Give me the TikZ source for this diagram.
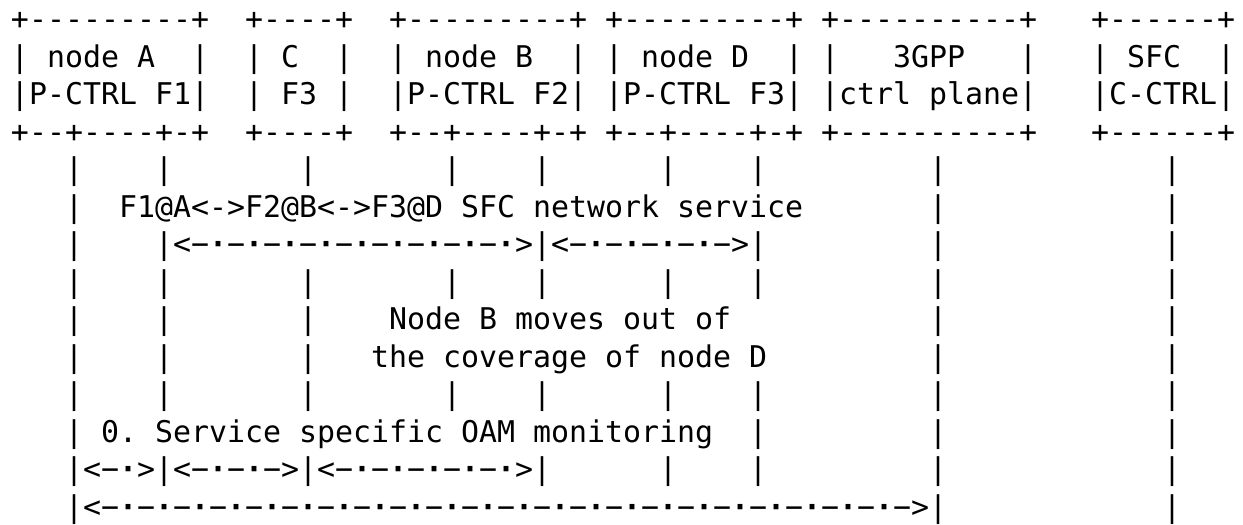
\documentclass[tikz,border=0pt]{standalone}
\usepackage{fontspec}
\setmonofont{DejaVu Sans Mono}
\newcommand\arrdot{{\bfseries ·}}
\newcommand\arrdash{−}
\ExplSyntaxOn
\cs_new:Npn \dashdot #1 { \prg_replicate:nn {#1} {\arrdash\arrdot} }
\ExplSyntaxOff
\newcommand\asciifont{\ttfamily\fontsize{22.43pt}{28pt}\selectfont\frenchspacing}
\tikzset{ch/.style={anchor=base west, inner sep=0pt, outer sep=0pt, font=\asciifont, text=black}}
% \asc{name}{column}{row}{text}
\newcommand\asc[4]{\node[ch] (#1) at ({11+18*(#2)},{29.5+37.5*((#3)-1)}) {#4};}
\begin{document}
\begin{tikzpicture}[x=0.75pt,y=-0.75pt]
\useasboundingbox[fill=white] (0,0) rectangle (1243,525);
% ---- boxes ----
\asc{A1}{0}{1}{+---------+}
\asc{A2}{0}{2}{|~node~A~~|}
\asc{A3}{0}{3}{|P-CTRL~F1|}
\asc{A4}{0}{4}{+--+----+-+}
\asc{C1}{13}{1}{+----+}
\asc{C2}{13}{2}{|~C~~|}
\asc{C3}{13}{3}{|~F3~|}
\asc{C4}{13}{4}{+----+}
\asc{B1}{21}{1}{+---------+}
\asc{B2}{21}{2}{|~node~B~~|}
\asc{B3}{21}{3}{|P-CTRL~F2|}
\asc{B4}{21}{4}{+--+----+-+}
\asc{D1}{33}{1}{+---------+}
\asc{D2}{33}{2}{|~node~D~~|}
\asc{D3}{33}{3}{|P-CTRL~F3|}
\asc{D4}{33}{4}{+--+----+-+}
\asc{G1}{45}{1}{+----------+}
\asc{G2}{45}{2}{|~~~3GPP~~~|}
\asc{G3}{45}{3}{|ctrl~plane|}
\asc{G4}{45}{4}{+----------+}
\asc{S1}{60}{1}{+------+}
\asc{S2}{60}{2}{|~SFC~~|}
\asc{S3}{60}{3}{|C-CTRL|}
\asc{S4}{60}{4}{+------+}
% ---- full lifeline rows ----
\foreach \r in {5,8,11}{
  \foreach \c in {3,8,16,24,29,36,41,51,64}{
    \asc{v\r-\c}{\c}{\r}{|}
  }
}
% row 6
\asc{v6-3}{3}{6}{|}
\asc{t6}{6}{6}{F1@A<->F2@B<->F3@D~SFC~network~service}
\asc{v6-51}{51}{6}{|}
\asc{v6-64}{64}{6}{|}
% row 7
\asc{v7-3}{3}{7}{|}
\asc{v7-8}{8}{7}{|}
\asc{a7a}{9}{7}{<\dashdot{9}>}
\asc{v7-29}{29}{7}{|}
\asc{a7b}{30}{7}{<\dashdot{4}\arrdash>}
\asc{v7-41}{41}{7}{|}
\asc{v7-51}{51}{7}{|}
\asc{v7-64}{64}{7}{|}
% rows 9-10
\foreach \r in {9,10}{
  \foreach \c in {3,8,16,51,64}{
    \asc{v\r-\c}{\c}{\r}{|}
  }
}
\asc{t9}{21}{9}{Node~B~moves~out~of}
\asc{t10}{20}{10}{the~coverage~of~node~D}
% row 12
\foreach \c in {3,41,51,64}{\asc{v12-\c}{\c}{12}{|}}
\asc{t12}{5}{12}{0.~Service~specific~OAM~monitoring}
% row 13
\foreach \c in {3,8,16,29,36,41,51,64}{\asc{v13-\c}{\c}{13}{|}}
\asc{a13a}{4}{13}{<\arrdash\arrdot>}
\asc{a13b}{9}{13}{<\dashdot{2}\arrdash>}
\asc{a13c}{17}{13}{<\dashdot{5}>}
% row 14
\foreach \c in {3,51,64}{\asc{v14-\c}{\c}{14}{|}}
\asc{a14}{4}{14}{<\dashdot{22}\arrdash>}
\end{tikzpicture}
\end{document}
